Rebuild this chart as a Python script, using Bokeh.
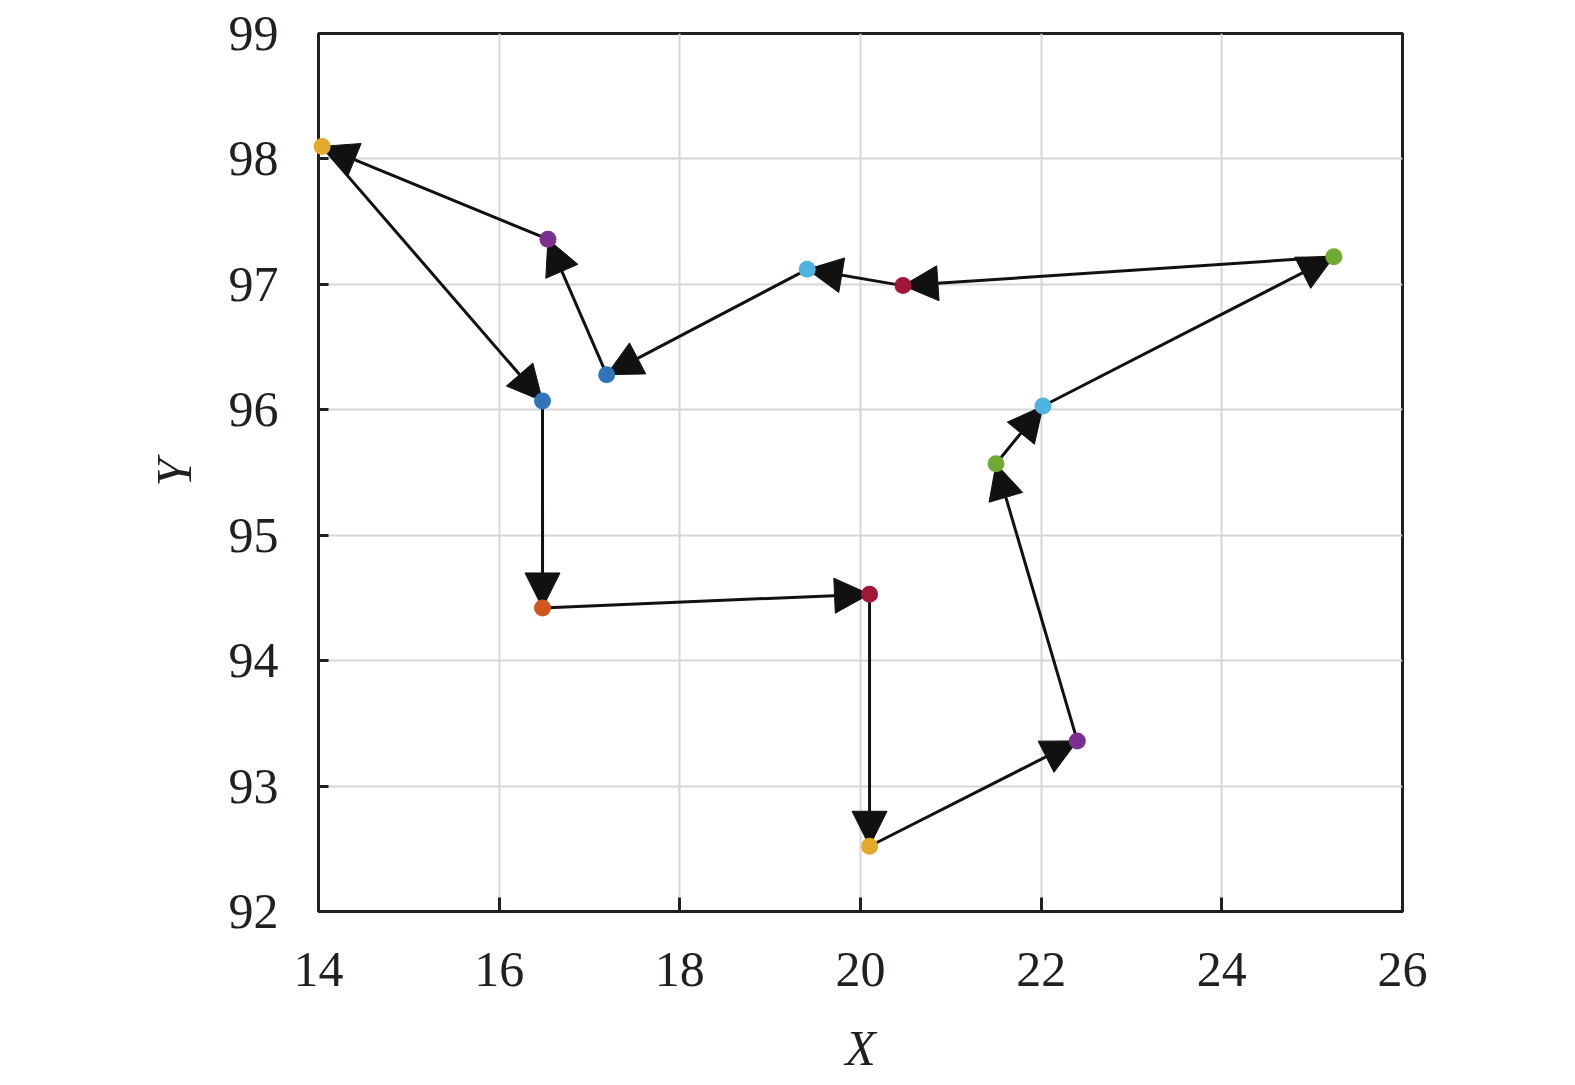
from bokeh.plotting import figure
from bokeh.embed import file_html
from bokeh.resources import INLINE
from bokeh.models import Arrow, NormalHead, ColumnDataSource

# route through the points, in visiting order (closed loop)
route_x = [20.10, 22.40, 21.50, 22.02, 25.24, 20.47, 19.41, 17.19, 16.54, 14.04, 16.48, 16.48, 20.10]
route_y = [92.52, 93.36, 95.57, 96.03, 97.22, 96.99, 97.12, 96.28, 97.36, 98.10, 96.07, 94.42, 94.53]
point_colors = ["#E3A92B", "#7B2F8E", "#6EAA34", "#4FB3E0", "#6EAA34", "#A0173A", "#4FB3E0",
                "#3274BA", "#7B2F8E", "#E3A92B", "#3274BA", "#D2571F", "#A0173A"]

x_ticks = [14, 16, 18, 20, 22, 24, 26]
y_ticks = [92, 93, 94, 95, 96, 97, 98, 99]

FONT = "Liberation Serif, Times New Roman, serif"
INK = "#231f20"

p = figure(frame_width=1084, frame_height=878, x_range=(14, 26), y_range=(92, 99),
           output_backend="svg", toolbar_location=None,
           min_border_left=318, min_border_top=33, min_border_right=130, min_border_bottom=140,
           background_fill_color="white", border_fill_color="white")

p.outline_line_color = INK
p.outline_line_width = 3
p.outline_line_alpha = 1.0

p.xgrid.grid_line_color = "#d6d6d6"
p.ygrid.grid_line_color = "#d6d6d6"
p.xgrid.grid_line_width = 2
p.ygrid.grid_line_width = 2
p.xaxis.ticker = x_ticks
p.yaxis.ticker = y_ticks

for ax in (p.xaxis, p.yaxis):
    ax.axis_line_color = INK
    ax.axis_line_width = 3
    ax.major_tick_line_color = INK
    ax.major_tick_line_width = 3
    ax.major_tick_out = 0
    ax.minor_tick_line_color = None
    ax.major_label_text_font = FONT
    ax.major_label_text_font_size = "50px"
    ax.major_label_text_color = INK
    ax.axis_label_text_font = FONT
    ax.axis_label_text_font_size = "50px"
    ax.axis_label_text_font_style = "italic"
    ax.axis_label_text_color = INK

p.xaxis.major_tick_in = 14
p.yaxis.major_tick_in = 10
p.xaxis.major_label_standoff = 41
p.yaxis.major_label_standoff = 40
p.xaxis.axis_label = "X"
p.yaxis.axis_label = "Y"
p.xaxis.axis_label_standoff = 31
p.yaxis.axis_label_standoff = 24

# arrows between consecutive points
n = len(route_x)
src = ColumnDataSource(data=dict(
    x0=route_x,
    y0=route_y,
    x1=[route_x[(i + 1) % n] for i in range(n)],
    y1=[route_y[(i + 1) % n] for i in range(n)],
))
head = NormalHead(size=35, fill_color="#111111", line_color="#111111", line_width=1)
p.add_layout(Arrow(end=head, x_start="x0", y_start="y0", x_end="x1", y_end="y1",
                   source=src, line_color="#111111", line_width=3))

pts = ColumnDataSource(data=dict(x=route_x, y=route_y, c=point_colors))
dots = p.scatter("x", "y", source=pts, size=17, fill_color="c", line_color=None)
dots.level = "overlay"

open("out.html", "w").write(file_html(p, INLINE))
